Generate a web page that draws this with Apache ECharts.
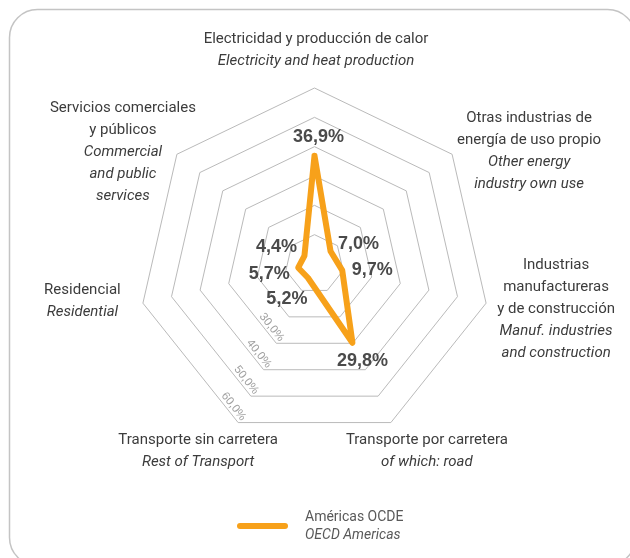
<!DOCTYPE html>
<html>
<head>
<meta charset="utf-8">
<script src="https://cdn.jsdelivr.net/npm/echarts@6/dist/echarts.min.js"></script>
<style>
  html, body { margin: 0; padding: 0; background: #ffffff; }
  #chart { width: 630px; height: 558px; }
</style>
</head>
<body>
<div id="chart"></div>
<script>
// Sectors, listed in the radar's drawing order (counter-clockwise from the top)
const sectorsEs = [
  'Electricidad y producción de calor',
  'Servicios comerciales\ny públicos',
  'Residencial',
  'Transporte sin carretera',
  'Transporte por carretera',
  'Industrias\nmanufactureras\ny de construcción',
  'Otras industrias de\nenergía de uso propio'
];
const sectorsEn = [
  'Electricity and heat production',
  'Commercial\nand public\nservices',
  'Residential',
  'Rest of Transport',
  'of which: road',
  'Manuf. industries\nand construction',
  'Other energy\nindustry own use'
];
// Share of CO2 emissions by sector (%)
const shares = [36.9, 4.4, 5.7, 5.2, 29.8, 9.7, 7.0];

// Scale of the rings
const scaleMax = 60;
const scaleSteps = 6;
const firstLabelledTick = 30;
const labelledAxis = 3; // tick labels are drawn along "Transporte sin carretera"

const seriesNameEs = 'Américas OCDE';
const seriesNameEn = 'OECD Americas';

// Layout of each sector's name around its outer vertex: [top, right, bottom, left] padding
const namePadding = [
  [0, 0, 76, 3],
  [0, 108, 4, 0],
  [0, 121, 4, 0],
  [58, 80, 0, 0],
  [58, 0, 0, 72],
  [12, 0, 0, 140],
  [0, 0, 6, 154]
];
// Offset of each value label from its vertex
const valueLabelOffset = [
  [4, -19],
  [-28, -9],
  [-29, 6],
  [-21, 21],
  [10, 18],
  [30, 0],
  [28, -7]
];

const fmtPct = v => v.toFixed(1).replace('.', ',') + '%';
const orange = '#F7A11A';
const textDark = '#3C3C3C';

const indicators = sectorsEs.map((es, i) => {
  const ind = {
    name: '{es|' + es + '}\n{en|' + sectorsEn[i] + '}',
    min: 0,
    max: scaleMax,
    nameTextStyle: {
      align: 'center',
      verticalAlign: 'middle',
      padding: namePadding[i]
    }
  };
  if (i === labelledAxis) {
    ind.axisLabel = {
      show: true,
      rotate: -51.4,
      align: 'right',
      verticalAlign: 'bottom',
      margin: 1,
      color: '#A0A0A0',
      fontSize: 11.5,
      fontFamily: 'Liberation Sans',
      formatter: v => (v >= firstLabelledTick ? fmtPct(v) : '')
    };
  }
  return ind;
});

// One invisible series per vertex carries its value label
const labelSeries = shares.map((v, i) => ({
  type: 'radar',
  silent: true,
  symbol: 'circle',
  symbolSize: 0,
  itemStyle: { color: 'rgba(0,0,0,0)' },
  lineStyle: { opacity: 0 },
  emphasis: { disabled: true },
  z: 3,
  data: [{
    value: shares.map((s, j) => (j === i ? s : '-')),
    label: {
      show: true,
      position: valueLabelOffset[i],
      align: 'center',
      verticalAlign: 'middle',
      color: '#4A4A4A',
      fontSize: 18,
      fontWeight: 'bold',
      fontFamily: 'Liberation Sans',
      formatter: p => (typeof p.value === 'number' && !isNaN(p.value) ? fmtPct(p.value) : '')
    }
  }]
}));

const chart = echarts.init(document.getElementById('chart'), null, { renderer: 'canvas' });
chart.setOption({
  animation: false,
  backgroundColor: '#ffffff',
  graphic: [{
    type: 'rect',
    z: -10,
    silent: true,
    shape: { x: 9.5, y: 9.5, width: 626, height: 556, r: 28 },
    style: { fill: 'rgba(0,0,0,0)', stroke: '#C4C4C4', lineWidth: 1.5 }
  }],
  legend: {
    left: 237,
    top: 510,
    padding: 0,
    data: [seriesNameEs],
    itemWidth: 51,
    itemHeight: 6,
    icon: 'path://M3,0 H48 A3,3 0 0 1 48,6 H3 A3,3 0 0 1 3,0 Z',
    itemStyle: { color: orange },
    formatter: () => '{a|' + seriesNameEs + '}\n{b|' + seriesNameEn + '}',
    textStyle: {
      padding: [0, 0, 0, 12],
      rich: {
        a: { fontFamily: 'Roboto', fontSize: 14, color: '#595959', lineHeight: 18 },
        b: { fontFamily: 'Roboto', fontSize: 14, fontStyle: 'italic', color: '#595959', lineHeight: 18 }
      }
    }
  },
  radar: {
    center: [314.5, 264],
    radius: 176,
    startAngle: 90,
    shape: 'polygon',
    splitNumber: scaleSteps,
    axisNameGap: 0,
    axisName: {
      show: true,
      color: textDark,
      rich: {
        es: { fontFamily: 'Roboto', fontSize: 15, color: textDark, lineHeight: 22 },
        en: { fontFamily: 'Roboto', fontSize: 15, fontStyle: 'italic', color: textDark, lineHeight: 22 }
      }
    },
    axisLine: { show: false },
    axisTick: { show: false },
    axisLabel: { show: false },
    splitLine: { lineStyle: { color: '#BABABA', width: 1 } },
    splitArea: { show: false },
    indicator: indicators
  },
  series: [{
    type: 'radar',
    name: seriesNameEs,
    symbol: 'none',
    z: 2,
    lineStyle: { color: orange, width: 6, join: 'round', cap: 'round' },
    itemStyle: { color: orange },
    data: [{ name: seriesNameEs, value: shares }]
  }].concat(labelSeries)
});
</script>
</body>
</html>
